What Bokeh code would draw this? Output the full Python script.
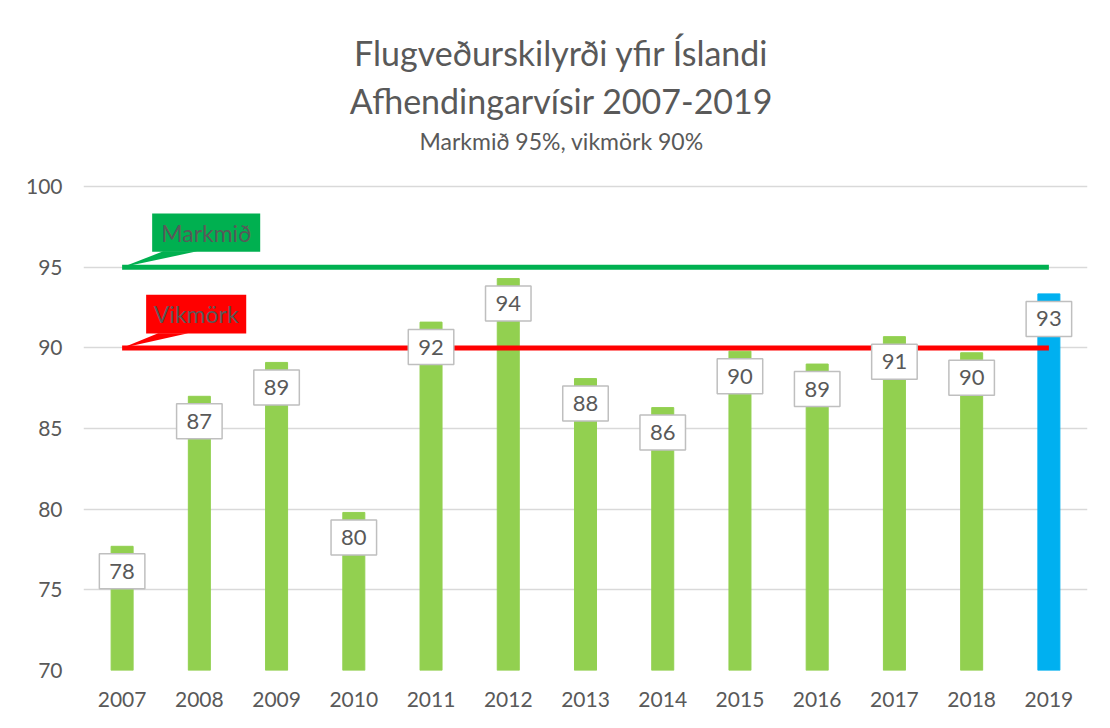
from bokeh.plotting import figure
from bokeh.models import Range1d, Label, FactorRange
from bokeh.core.properties import value
from bokeh.embed import file_html
from bokeh.resources import INLINE

years = ["2007", "2008", "2009", "2010", "2011", "2012", "2013",
         "2014", "2015", "2016", "2017", "2018", "2019"]
bar_values = [77.7, 87.0, 89.1, 79.8, 91.6, 94.3, 88.1, 86.3, 89.8, 89.0, 90.7, 89.7, 93.35]
bar_labels = ["78", "87", "89", "80", "92", "94", "88", "86", "90", "89", "91", "90", "93"]
target = 95
tolerance = 90
y_ticks = [70, 75, 80, 85, 90, 95, 100]

title1 = "Flugveðurskilyrði yfir Íslandi"
title2 = "Afhendingarvísir 2007-2019"
subtitle = "Markmið 95%, vikmörk 90%"
callout_target = "Markmið"
callout_tol = "Vikmörk"

FONT = "Lato"
TXT = "#595959"
GREEN_BAR = "#92d050"
BLUE_BAR = "#00b0f0"
colors = [GREEN_BAR] * (len(years) - 1) + [BLUE_BAR]

W, H = 1100, 720
p = figure(width=W, height=H, x_range=FactorRange(*years), y_range=Range1d(70, 111.54),
           output_backend="svg", toolbar_location=None,
           min_border_left=83, min_border_right=13, min_border_top=0, min_border_bottom=50)
p.outline_line_color = None
p.background_fill_color = "white"
p.border_fill_color = "white"

p.vbar(x=years, top=bar_values, bottom=70, width=0.285, color=colors)

# reference lines
p.line(x=[years[0], years[-1]], y=[target, target], line_color="#00b050", line_width=5)
p.line(x=[years[0], years[-1]], y=[tolerance, tolerance], line_color="#ff0000", line_width=5)

# callouts (data coords relative to the line start at x=0.5)
def callout(x0, x1, y0, y1, tx0, tx1, ly, color, text):
    p.quad(left=[x0], right=[x1], bottom=[y0], top=[y1], fill_color=color, line_color=None)
    p.patch(x=[0.5, tx0, tx1], y=[ly, y0 + 0.02, y0 + 0.02], fill_color=color, line_color=None)
    p.text(x=[(x0 + x1) / 2], y=[(y0 + y1) / 2], text=[text], text_align="center",
           text_baseline="middle", text_color=TXT, text_font=value(FONT),
           text_font_size="23px")

callout(0.889, 2.288, 95.97, 98.33, 1.032, 1.472, target, "#00b050", callout_target)
callout(0.811, 2.107, 90.89, 93.30, 0.967, 1.355, tolerance, "#ff0000", callout_tol)

# data labels
for i, (v, lab) in enumerate(zip(bar_values, bar_labels)):
    p.add_layout(Label(x=i + 0.5, y=v, y_offset=-25, text=lab, text_align="center",
                       text_baseline="middle", text_font=FONT, text_font_size="22px",
                       text_color=TXT, background_fill_color="white",
                       border_line_color="#bfbfbf", border_line_width=1.5, padding=10))

# titles (inside the extended range above 100)
def title_text(y, txt, size):
    p.text(x=[6.19], y=[y], text=[txt], text_align="center", text_baseline="middle",
           text_font=value(FONT), text_font_size=size, text_color=TXT)

title_text(108.31, title1, "34px")
title_text(105.33, title2, "34px")
title_text(102.85, subtitle, "23px")

# axes & grid
p.yaxis.ticker = y_ticks
p.ygrid.ticker = y_ticks
p.ygrid.grid_line_color = "#d9d9d9"
p.ygrid.grid_line_width = 1.5
p.xgrid.grid_line_color = None
for ax in (p.xaxis, p.yaxis):
    ax.axis_line_color = None
    ax.major_tick_line_color = None
    ax.minor_tick_line_color = None
    ax.major_tick_out = 0
    ax.major_tick_in = 0
    ax.minor_tick_out = 0
    ax.major_label_text_font = FONT
    ax.major_label_text_font_size = "21px"
    ax.major_label_text_color = TXT
p.yaxis.major_label_standoff = 21
p.xaxis.major_label_standoff = 21

open("out.html", "w").write(file_html(p, INLINE))
